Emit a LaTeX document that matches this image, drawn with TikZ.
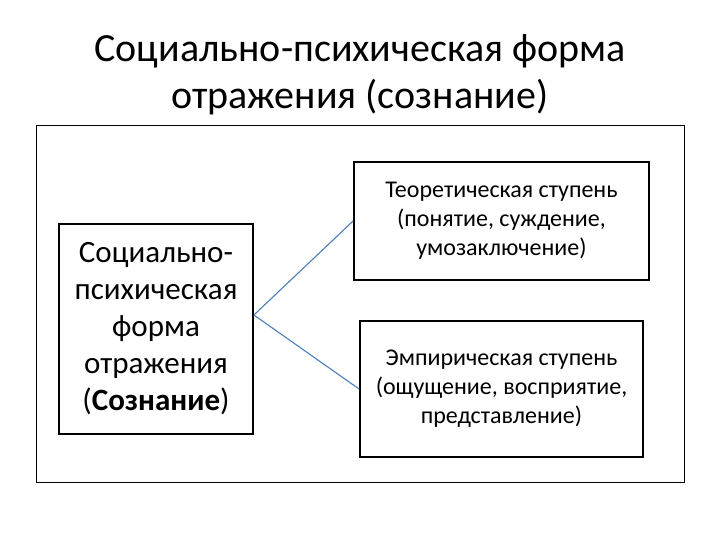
\documentclass[tikz,border=0pt]{standalone}
\usepackage{fontspec}
\setmainfont{Carlito}
\definecolor{linkblue}{HTML}{4A7EBB}
\tikzset{
  box/.style={draw=black, line width=1.8pt, rectangle, inner sep=0pt, align=center},
  frame/.style={draw=black, line width=1pt, rectangle, inner sep=0pt},
  link/.style={draw=linkblue, line width=1.1pt},
  titletext/.style={font=\fontsize{40}{47}\selectfont, anchor=base, inner sep=0pt},
  bigtext/.style={font=\fontsize{31}{37}\selectfont},
  smalltext/.style={font=\fontsize{24}{29}\selectfont}
}
\begin{document}
\begin{tikzpicture}[x=1pt,y=-1pt]
\useasboundingbox (0,0) rectangle (720,540);
\node[titletext] (t1) at (360,62) {Социально-психическая форма};
\node[titletext] (t2) at (360,109) {отражения (сознание)};
\node[frame, minimum width=648pt, minimum height=356pt] (frm) at (360,304) {};
\node[box, bigtext, minimum width=194pt, minimum height=210pt] (a) at (156,329)
  {Социально-\\психическая\\форма\\отражения\\(\textbf{Сознание})};
\node[box, smalltext, minimum width=295pt, minimum height=118pt] (b) at (501.5,221)
  {Теоретическая ступень\\(понятие, суждение,\\умозаключение)};
\node[box, smalltext, minimum width=283pt, minimum height=136pt] (c) at (501.5,389)
  {Эмпирическая ступень\\(ощущение, восприятие,\\представление)};
\coordinate (j) at ([yshift=14pt]a.east);
\draw[link] (j) -- (b.west);
\draw[link] (j) -- (c.west);
\end{tikzpicture}
\end{document}
